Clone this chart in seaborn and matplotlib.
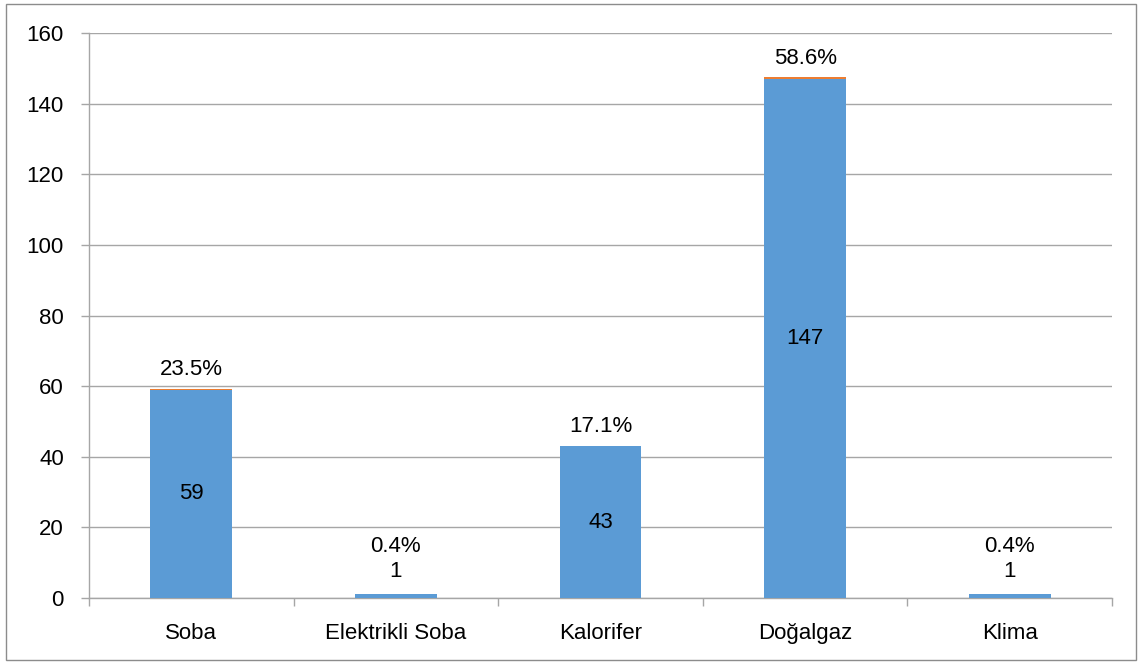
import matplotlib
matplotlib.use("Agg")
import matplotlib.pyplot as plt
import matplotlib.patches as mpatches
import seaborn as sns
import pandas as pd

categories = ["Soba", "Elektrikli Soba", "Kalorifer", "Doğalgaz", "Klima"]
counts = [59, 1, 43, 147, 1]
shares = [0.235, 0.004, 0.171, 0.586, 0.004]
y_ticks = [0, 20, 40, 60, 80, 100, 120, 140, 160]

BLUE = "#5B9BD5"
ORANGE = "#ED7D31"
GRID = "#A6A6A6"
FS = 16

sns.set_theme(style="white")
plt.rcParams["font.family"] = ["Liberation Sans", "DejaVu Sans"]
plt.rcParams["text.color"] = "black"
plt.rcParams["xtick.color"] = "black"
plt.rcParams["ytick.color"] = "black"

df = pd.DataFrame({"cat": categories, "n": counts, "pct": shares})

fig = plt.figure(figsize=(11.41, 6.64), dpi=100)
ax = fig.add_axes([89 / 1141, 1 - 598 / 664, (1112 - 89) / 1141, (598 - 33) / 664])

sns.barplot(data=df, x="cat", y="n", color=BLUE, width=0.4, saturation=1,
            linewidth=0, ax=ax, zorder=3)
# tiny percentage segment stacked on top (Excel-style)
ax.bar(range(len(categories)), df["pct"], bottom=df["n"], width=0.4,
       color=ORANGE, linewidth=0, zorder=3)

ax.set_xlim(-0.5, len(categories) - 0.5)
ax.set_ylim(0, 160)
ax.set_yticks(y_ticks)
ax.yaxis.grid(True, color=GRID, lw=1, zorder=0)
ax.set_xlabel("")
ax.set_ylabel("")

for s in ["top", "right"]:
    ax.spines[s].set_visible(False)
for s in ["left", "bottom"]:
    ax.spines[s].set_color(GRID)
    ax.spines[s].set_linewidth(1)

ax.tick_params(axis="y", which="major", length=6, color=GRID, width=1,
               labelsize=FS, pad=12, left=True, labelcolor="black")
ax.tick_params(axis="x", which="major", length=0, labelsize=FS, pad=18,
               labelcolor="black")
ax.set_xticks([i - 0.5 for i in range(len(categories) + 1)], minor=True)
ax.tick_params(axis="x", which="minor", length=6, color=GRID, width=1,
               bottom=True)

for i, (n, p) in enumerate(zip(counts, shares)):
    top = n + p
    if n > 10:
        ax.text(i, n / 2, f"{n}", ha="center", va="center", fontsize=FS,
                zorder=4)
        ax.annotate(f"{p * 100:.1f}%", (i, top), xytext=(0, 6),
                    textcoords="offset points", ha="center", va="bottom",
                    fontsize=FS)
    else:
        ax.annotate(f"{n}", (i, top), xytext=(0, 9),
                    textcoords="offset points", ha="center", va="bottom",
                    fontsize=FS)
        ax.annotate(f"{p * 100:.1f}%", (i, top), xytext=(0, 27),
                    textcoords="offset points", ha="center", va="bottom",
                    fontsize=FS)

# outer chart border
fig.patches.append(mpatches.Rectangle((6 / 1141, 4 / 664),
                                      1130 / 1141, 656 / 664,
                                      transform=fig.transFigure, fill=False,
                                      edgecolor="#8C8C8C", lw=1))

fig.savefig("out.png", dpi=100)
